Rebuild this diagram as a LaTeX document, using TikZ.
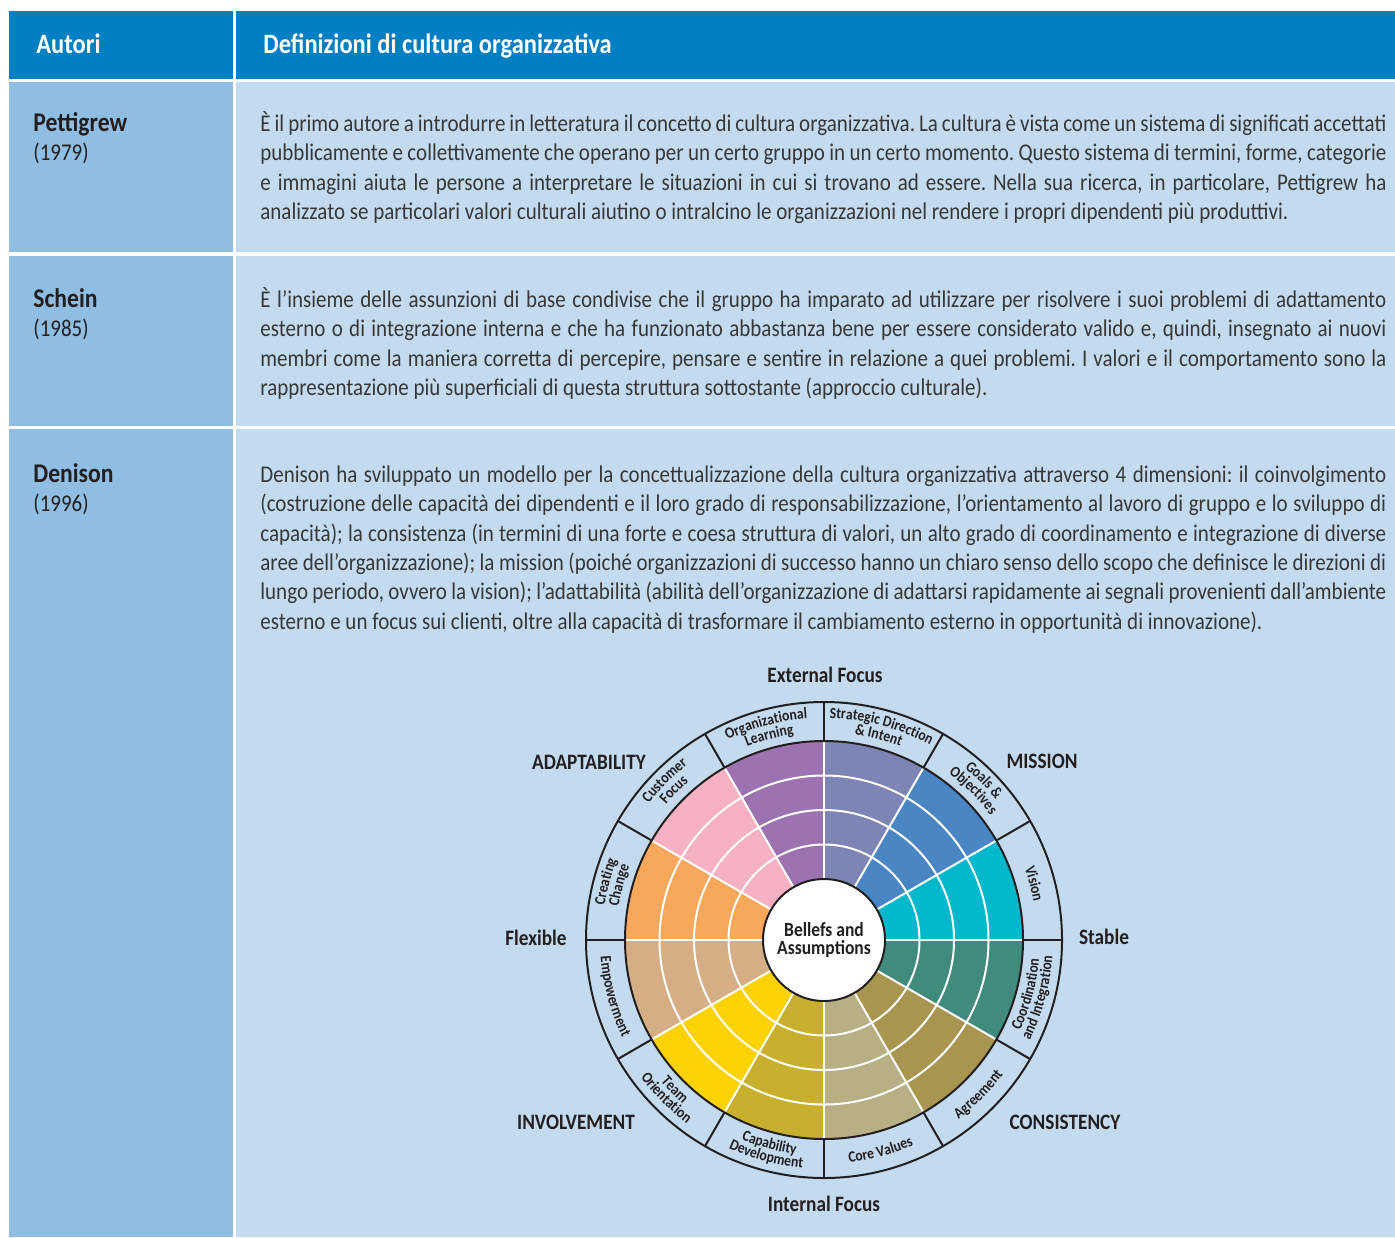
\documentclass[tikz,border=0pt]{standalone}
\usepackage{fontspec}
\setmainfont[FakeStretch=0.875]{Carlito}
\usetikzlibrary{decorations.text}

\definecolor{hdr}{RGB}{0,128,195}
\definecolor{colL}{RGB}{143,190,226}
\definecolor{colR}{RGB}{196,219,239}
\definecolor{ink}{RGB}{35,31,32}
\definecolor{bodyink}{RGB}{55,55,55}
\definecolor{secVis}{RGB}{0,184,204}
\definecolor{secGoal}{RGB}{74,134,196}
\definecolor{secDir}{RGB}{124,133,180}
\definecolor{secLearn}{RGB}{156,115,176}
\definecolor{secCust}{RGB}{246,178,194}
\definecolor{secChange}{RGB}{247,168,91}
\definecolor{secEmp}{RGB}{214,174,133}
\definecolor{secTeam}{RGB}{252,210,0}
\definecolor{secCap}{RGB}{200,176,46}
\definecolor{secCore}{RGB}{185,175,133}
\definecolor{secAgree}{RGB}{168,150,80}
\definecolor{secCoord}{RGB}{64,139,124}

\newcommand\ringfont{\fontsize{7.8}{9}\selectfont\bfseries\color{ink}}
\newcommand\toplab[3]{\path[outerlab={#3}] (#1+20:#2) arc[start angle=#1+20, end angle=#1-20, radius=#2];}
\newcommand\botlab[3]{\path[outerlab={#3}] (#1-20:#2) arc[start angle=#1-20, end angle=#1+20, radius=#2];}

\tikzset{
  headtext/.style={anchor=base west, inner sep=0pt, text=white, font=\fontsize{14}{15}\selectfont\bfseries},
  author/.style={anchor=north west, inner sep=0pt, align=left, text=ink, font=\fontsize{12}{14.7}\selectfont},
  deftext/.style={anchor=north west, inner sep=0pt, text width=563pt, align=justify, text=bodyink, font=\fontsize{12}{14.7}\selectfont},
  axislab/.style={inner sep=0pt, text=ink, font=\fontsize{11}{12}\selectfont\bfseries},
  outerlab/.style={decorate, decoration={text along path, text align=center, text={|\ringfont|#1}}},
}

\hyphenpenalty=10000
\tolerance=10000
\frenchspacing

\begin{document}
\begin{tikzpicture}[x=0.5pt,y=0.5pt]
  \useasboundingbox (0,0) rectangle (1395,-1237);
  % table
  \fill[hdr] (9,-11) rectangle (232.5,-79);
  \fill[hdr] (236,-11) rectangle (1395,-79);
  \foreach \t/\b in {82/252, 255.5/425.7, 429/1237} {
    \fill[colL] (9,-\t) rectangle (232.5,-\b);
    \fill[colR] (236,-\t) rectangle (1395,-\b);
  }
  \node[headtext] (hA) at (36,-53.3) {Autori};
  \node[headtext] (hD) at (263,-53.3) {Definizioni di cultura organizzativa};

  % authors
  \node[author] (pett) at (33,-110.4) {\strut{\fontsize{13.5}{14.7}\selectfont\bfseries Pettigrew}\\(1979)};
  \node[author] (schein) at (33,-286.4) {\strut{\fontsize{13.5}{14.7}\selectfont\bfseries Schein}\\(1985)};
  \node[author] (denison) at (33,-461.4) {\strut{\fontsize{13.5}{14.7}\selectfont\bfseries Denison}\\(1996)};

  % definitions
  \node[deftext] (defP) at (260,-110.4) {\strut È il primo autore a introdurre in letteratura il concetto di cultura organizzativa. La cultura è vista come un sistema di significati accettati\linebreak
  pubblicamente e collettivamente che operano per un certo gruppo in un certo momento. Questo sistema di termini, forme, categorie\linebreak
  e immagini aiuta le persone a interpretare le situazioni in cui si trovano ad essere. Nella sua ricerca, in particolare, Pettigrew ha\linebreak
  analizzato se particolari valori culturali aiutino o intralcino le organizzazioni nel rendere i propri dipendenti più produttivi.};
  \node[deftext] (defS) at (260,-286.4) {\strut È l'insieme delle assunzioni di base condivise che il gruppo ha imparato ad utilizzare per risolvere i suoi problemi di adattamento\linebreak
  esterno o di integrazione interna e che ha funzionato abbastanza bene per essere considerato valido e, quindi, insegnato ai nuovi\linebreak
  membri come la maniera corretta di percepire, pensare e sentire in relazione a quei problemi. I valori e il comportamento sono la\linebreak
  rappresentazione più superficiali di questa struttura sottostante (approccio culturale).};
  \node[deftext] (defD) at (260,-461.4) {\strut Denison ha sviluppato un modello per la concettualizzazione della cultura organizzativa attraverso 4 dimensioni: il coinvolgimento\linebreak
  (costruzione delle capacità dei dipendenti e il loro grado di responsabilizzazione, l'orientamento al lavoro di gruppo e lo sviluppo di\linebreak
  capacità); la consistenza (in termini di una forte e coesa struttura di valori, un alto grado di coordinamento e integrazione di diverse\linebreak
  aree dell'organizzazione); la mission (poiché organizzazioni di successo hanno un chiaro senso dello scopo che definisce le direzioni di\linebreak
  lungo periodo, ovvero la vision); l'adattabilità (abilità dell'organizzazione di adattarsi rapidamente ai segnali provenienti dall'ambiente\linebreak
  esterno e un focus sui clienti, oltre alla capacità di trasformare il cambiamento esterno in opportunità di innovazione).};

  % wheel
  \begin{scope}[shift={(824,-940)}]
    \foreach \a/\c in {0/secVis,30/secGoal,60/secDir,90/secLearn,120/secCust,150/secChange,
                       180/secEmp,210/secTeam,240/secCap,270/secCore,300/secAgree,330/secCoord}
      \fill[\c] (0,0) -- (\a:199) arc[start angle=\a, delta angle=30, radius=199] -- cycle;
    \foreach \r in {95.5,130,164.5}
      \draw[white, line width=1pt] (0,0) circle[radius=\r];
    \foreach \a in {0,30,...,330} {
      \draw[white, line width=1pt] (0,0) -- (\a:199);
      \draw[ink, line width=1pt] (\a:199) -- (\a:238);
    }
    \draw[ink, line width=1pt] (0,0) circle[radius=199] circle[radius=238];
    \node[circle, draw=ink, fill=white, line width=1pt, minimum size=61pt, inner sep=0pt,
          align=center, text=ink, font=\fontsize{10}{9.3}\selectfont\bfseries] (core) at (0,0) {Bellefs and\\Assumptions};

    % ring labels
    \toplab{15}{213}{Vision}
    \toplab{45}{222}{Goals {\&}}
    \toplab{45}{208}{Objectives}
    \toplab{75}{222}{Strategic Direction}
    \toplab{75}{208}{{\&} Intent}
    \toplab{105}{222}{Organizational}
    \toplab{105}{208}{Learning}
    \toplab{135}{222}{Customer}
    \toplab{135}{208}{Focus}
    \toplab{165}{222}{Creating}
    \toplab{165}{208}{Change}
    \botlab{195}{224}{Empowerment}
    \botlab{225}{216}{Team}
    \botlab{225}{229}{Orientation}
    \botlab{255}{216}{Capability}
    \botlab{255}{229}{Development}
    \botlab{285}{224}{Core Values}
    \botlab{315}{224}{Agreement}
    \botlab{345}{216}{Coordination}
    \botlab{345}{229}{and Integration}
  \end{scope}

  % axis labels
  \node[axislab] (ext) at (825,-675) {External Focus};
  \node[axislab] (int) at (824,-1204) {Internal Focus};
  \node[axislab] (flex) at (536,-938) {Flexible};
  \node[axislab] (stab) at (1104,-937) {Stable};
  \node[axislab] (adapt) at (589,-762) {ADAPTABILITY};
  \node[axislab] (miss) at (1042,-761) {MISSION};
  \node[axislab] (invol) at (576,-1122) {INVOLVEMENT};
  \node[axislab] (cons) at (1065,-1122) {CONSISTENCY};
\end{tikzpicture}
\end{document}
